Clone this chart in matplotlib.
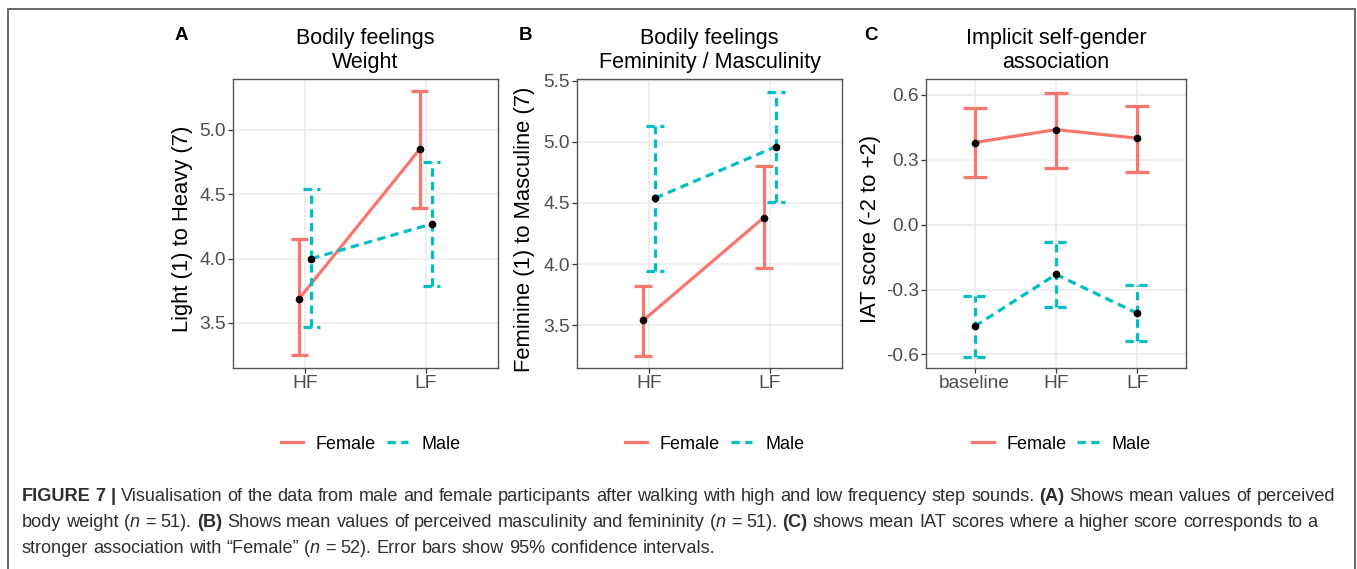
import numpy as np
import matplotlib
matplotlib.use("Agg")
import matplotlib.pyplot as plt
from matplotlib.lines import Line2D
from matplotlib.patches import Rectangle

plt.rcParams['font.family'] = ['Liberation Sans', 'DejaVu Sans']
plt.rcParams['axes.unicode_minus'] = False

# data (means and 95% CI limits)
conds_ab = ['HF', 'LF']
weight_f = [3.69, 4.85]
weight_f_lo = [3.25, 4.39]
weight_f_hi = [4.15, 5.30]
weight_m = [4.00, 4.27]
weight_m_lo = [3.47, 3.79]
weight_m_hi = [4.54, 4.75]

masc_f = [3.54, 4.38]
masc_f_lo = [3.25, 3.97]
masc_f_hi = [3.82, 4.80]
masc_m = [4.54, 4.96]
masc_m_lo = [3.94, 4.51]
masc_m_hi = [5.13, 5.41]

conds_c = ['baseline', 'HF', 'LF']
iat_f = [0.38, 0.44, 0.40]
iat_f_lo = [0.22, 0.26, 0.245]
iat_f_hi = [0.54, 0.61, 0.55]
iat_m = [-0.47, -0.23, -0.41]
iat_m_lo = [-0.61, -0.38, -0.54]
iat_m_hi = [-0.33, -0.08, -0.28]

RED = '#F8766D'
CYAN = '#00BFC4'
LW = 2.3
DASH = (0, (2.6, 1.7))

W, H = 1357, 569
fig = plt.figure(figsize=(W / 100, H / 100), dpi=100)


def add_panel(px_left, px_right, ylim, cats, fm, flo, fhi, mm, mlo, mhi,
              dodge, capw, yticks, title, ylabel, letter, letter_x, labx):
    ax = fig.add_axes([px_left / W, 1 - 368 / H, (px_right - px_left) / W, (368 - 79) / H])
    x = np.arange(len(cats))
    xf = x - dodge
    xm = x + dodge
    ax.plot(xf, fm, color=RED, lw=LW, zorder=3)
    ax.plot(xm, mm, color=CYAN, lw=LW, ls=DASH, zorder=3)
    ax.vlines(xf, flo, fhi, color=RED, lw=LW, zorder=3)
    ax.hlines(flo, xf - capw / 2, xf + capw / 2, color=RED, lw=LW, zorder=3)
    ax.hlines(fhi, xf - capw / 2, xf + capw / 2, color=RED, lw=LW, zorder=3)
    ax.vlines(xm, mlo, mhi, color=CYAN, lw=LW, linestyles=[DASH], zorder=3)
    ax.hlines(mlo, xm - capw / 2, xm + capw / 2, color=CYAN, lw=LW, linestyles=[DASH], zorder=3)
    ax.hlines(mhi, xm - capw / 2, xm + capw / 2, color=CYAN, lw=LW, linestyles=[DASH], zorder=3)
    ax.plot(xf, fm, 'o', color='black', ms=4.5, zorder=4)
    ax.plot(xm, mm, 'o', color='black', ms=4.5, zorder=4)

    ax.set_xlim(-0.6, len(cats) - 0.4)
    ax.set_ylim(*ylim)
    ax.set_xticks(x)
    ax.set_xticklabels(cats)
    ax.set_yticks(yticks)
    ax.set_yticklabels([f'{v:.1f}' for v in yticks])
    ax.grid(True, color='#EBEBEB', lw=1.1, zorder=0)
    ax.set_axisbelow(True)
    for s in ax.spines.values():
        s.set_color('#555555')
        s.set_linewidth(1.0)
    ax.tick_params(length=3.5, width=0.9, color='#333333', labelcolor='#4D4D4D',
                   labelsize=13.8, pad=1.5)
    ax.set_title(title, fontsize=15.5, pad=8, linespacing=1.15)
    ax.set_ylabel(ylabel, fontsize=15.8, va='center')
    ax.yaxis.set_label_coords(labx, 0.48)
    fig.text(letter_x / W, 1 - 35 / H, letter, fontsize=13.5, fontweight='bold',
             ha='center', va='center')

    handles = [Line2D([], [], color=RED, lw=LW),
               Line2D([], [], color=CYAN, lw=LW, ls=DASH)]
    ax.legend(handles, ['Female', 'Male'], loc='center', bbox_to_anchor=(0.52, -0.263),
              ncol=2, frameon=False, fontsize=13, handlelength=1.2,
              handletextpad=0.7, columnspacing=0.6)
    return ax


add_panel(233, 498, (3.15, 5.396), conds_ab, weight_f, weight_f_lo, weight_f_hi,
          weight_m, weight_m_lo, weight_m_hi, 0.05, 0.14, [3.5, 4.0, 4.5, 5.0],
          'Bodily feelings\nWeight', 'Light (1) to Heavy (7)', 'A', 181, -0.19)
add_panel(577, 842, (3.15, 5.514), conds_ab, masc_f, masc_f_lo, masc_f_hi,
          masc_m, masc_m_lo, masc_m_hi, 0.05, 0.15, [3.5, 4.0, 4.5, 5.0, 5.5],
          'Bodily feelings\nFemininity / Masculinity', 'Feminine (1) to Masculine (7)',
          'B', 526, -0.197)
add_panel(926, 1186, (-0.663, 0.674), conds_c, iat_f, iat_f_lo, iat_f_hi,
          iat_m, iat_m_lo, iat_m_hi, 0.0, 0.29, [-0.6, -0.3, 0.0, 0.3, 0.6],
          'Implicit self-gender\nassociation', 'IAT score (-2 to +2)', 'C', 871, -0.215)

# frame around the figure + caption
fig.add_artist(Rectangle((8 / W, -0.1), (1355 - 8) / W, 1 - 9 / H + 0.1,
                         transform=fig.transFigure, fill=False, ec='#5a5a5a', lw=1.3))

renderer = fig.canvas.get_renderer()
CAP = dict(fontsize=13.07, color='#2e2e2e')


def text_width(s, **kw):
    t = fig.text(0, 0, s, **kw)
    w = t.get_window_extent(renderer).width
    t.remove()
    return w


def advance(s, **kw):
    # width of s including side bearings, measured between two n's
    return text_width('n' + s + 'n', **kw) - text_width('nn', **kw)


space = advance(' ', **CAP)


def draw_runs(x_px, base_px, runs):
    # one text per word, advancing by the real glyph advance
    for txt, weight, style in runs:
        for i, part in enumerate(txt.split(' ')):
            if i > 0:
                x_px += space
            if part:
                fig.text(x_px / W, 1 - base_px / H, part, fontweight=weight,
                         fontstyle=style, va='baseline', ha='left', **CAP)
                x_px += advance(part, fontweight=weight, fontstyle=style, **CAP)


N, B, I = 'normal', 'bold', 'italic'
line1 = [('FIGURE 7 |', B, N),
         (' Visualisation of the data from male and female participants after walking '
          'with high and low frequency step sounds. ', N, N),
         ('(A)', B, N), (' Shows mean values of perceived', N, N)]
line2 = [('body weight (', N, N), ('n', N, I), (' = 51). ', N, N), ('(B)', B, N),
         (' Shows mean values of perceived masculinity and femininity (', N, N),
         ('n', N, I), (' = 51). ', N, N), ('(C)', B, N),
         (' shows mean IAT scores where a higher score corresponds to a', N, N)]
line3 = [('stronger association with \u201cFemale\u201d (', N, N), ('n', N, I),
         (' = 52). Error bars show 95% confidence intervals.', N, N)]

draw_runs(22, 501, line1)
draw_runs(22, 527, line2)
draw_runs(22, 553, line3)

fig.savefig('out.png', dpi=100)
